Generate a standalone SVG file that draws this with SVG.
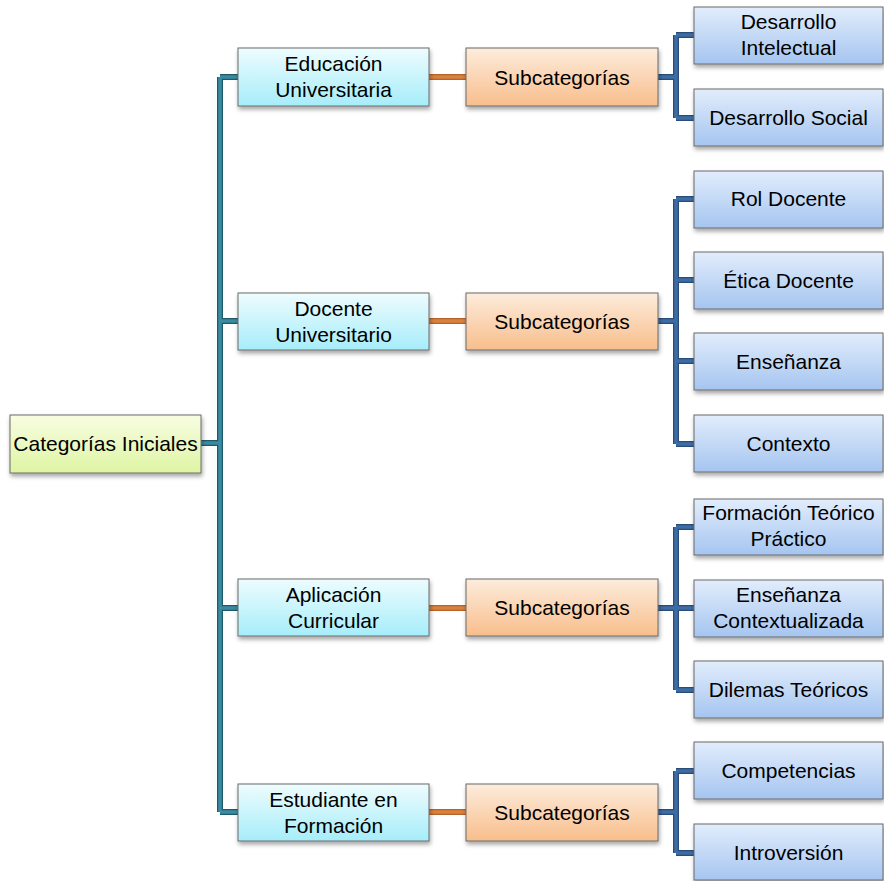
<svg xmlns="http://www.w3.org/2000/svg" width="884" height="881" viewBox="0 0 884 881">
<defs>
<linearGradient id="gRoot" x1="0" y1="0" x2="0" y2="1"><stop offset="0" stop-color="#f8fde2"/><stop offset="1" stop-color="#def5a3"/></linearGradient>
<linearGradient id="gCyan" x1="0" y1="0" x2="0" y2="1"><stop offset="0" stop-color="#eefcfe"/><stop offset="1" stop-color="#a6edfa"/></linearGradient>
<linearGradient id="gOrange" x1="0" y1="0" x2="0" y2="1"><stop offset="0" stop-color="#fdecdc"/><stop offset="1" stop-color="#f8be8c"/></linearGradient>
<linearGradient id="gBlue" x1="0" y1="0" x2="0" y2="1"><stop offset="0" stop-color="#e2edfc"/><stop offset="1" stop-color="#a5c5f0"/></linearGradient>
<filter id="shadow" x="-10%" y="-20%" width="125%" height="160%"><feDropShadow dx="1" dy="3" stdDeviation="2" flood-color="#000" flood-opacity="0.35"/></filter>
</defs>
<style>
.box{stroke:#6a6a6a;stroke-width:1;filter:url(#shadow)}
.root{fill:url(#gRoot)}
.cyan{fill:url(#gCyan)}
.orange{fill:url(#gOrange)}
.blue{fill:url(#gBlue)}
text{font-family:"Liberation Sans",Arial,sans-serif;font-size:21px;fill:#000;text-anchor:middle}
.c{fill:none;stroke-linejoin:miter;stroke-linecap:butt}
.tealO{stroke:#1f5a6b;stroke-width:6}
.tealI{stroke:#3b8ba2;stroke-width:3.5}
.orO{stroke:#b5632a;stroke-width:6}
.orI{stroke:#d9813e;stroke-width:3.5}
.blO{stroke:#2a4c78;stroke-width:6}
.blI{stroke:#3e6ca4;stroke-width:3.5}
</style>
<g id="connectors">
<path class="c tealO" d="M201 443H220M220 77V812M220 77H238M220 321H238M220 608H238M220 812H238"/>
<path class="c tealI" d="M201 443H220M220 77V812M220 77H238M220 321H238M220 608H238M220 812H238"/>
<path class="c orO" d="M429 77H466M429 321H466M429 608H466M429 812H466"/>
<path class="c orI" d="M429 77H466M429 321H466M429 608H466M429 812H466"/>
<path class="c blO" d="M658 77H676M676 35V118M676 35H694M676 118H694M658 321H676M676 199V444M676 199H694M676 280H694M676 361H694M676 444H694M658 608H676M676 527V690M676 527H694M676 608H694M676 690H694M658 812H676M676 771V853M676 771H694M676 853H694"/>
<path class="c blI" d="M658 77H676M676 35V118M676 35H694M676 118H694M658 321H676M676 199V444M676 199H694M676 280H694M676 361H694M676 444H694M658 608H676M676 527V690M676 527H694M676 608H694M676 690H694M658 812H676M676 771V853M676 771H694M676 853H694"/>
</g>
<g id="root"><rect class="box root" x="10" y="415" width="191" height="58"/><text x="105.5" y="451">Categorías Iniciales</text></g>
<g id="cat1"><rect class="box cyan" x="238" y="48" width="191" height="58"/><text x="333.5" y="71">Educación</text><text x="333.5" y="97">Universitaria</text></g>
<g id="cat2"><rect class="box cyan" x="238" y="293" width="191" height="57"/><text x="333.5" y="315.5">Docente</text><text x="333.5" y="341.5">Universitario</text></g>
<g id="cat3"><rect class="box cyan" x="238" y="579" width="191" height="57"/><text x="333.5" y="601.5">Aplicación</text><text x="333.5" y="627.5">Curricular</text></g>
<g id="cat4"><rect class="box cyan" x="238" y="784" width="191" height="57"/><text x="333.5" y="806.5">Estudiante en</text><text x="333.5" y="832.5">Formación</text></g>
<g id="sub1"><rect class="box orange" x="466" y="48" width="192" height="58"/><text x="562" y="84.5">Subcategorías</text></g>
<g id="sub2"><rect class="box orange" x="466" y="293" width="192" height="57"/><text x="562" y="329">Subcategorías</text></g>
<g id="sub3"><rect class="box orange" x="466" y="579" width="192" height="57"/><text x="562" y="615">Subcategorías</text></g>
<g id="sub4"><rect class="box orange" x="466" y="784" width="192" height="57"/><text x="562" y="820">Subcategorías</text></g>
<g id="n1"><rect class="box blue" x="694" y="7" width="189" height="57"/><text x="788.5" y="29">Desarrollo</text><text x="788.5" y="55">Intelectual</text></g>
<g id="n2"><rect class="box blue" x="694" y="89" width="189" height="57"/><text x="788.5" y="125">Desarrollo Social</text></g>
<g id="n3"><rect class="box blue" x="694" y="171" width="189" height="57"/><text x="788.5" y="206">Rol Docente</text></g>
<g id="n4"><rect class="box blue" x="694" y="252" width="189" height="57"/><text x="788.5" y="287.5">Ética Docente</text></g>
<g id="n5"><rect class="box blue" x="694" y="333" width="189" height="57"/><text x="788.5" y="368.5">Enseñanza</text></g>
<g id="n6"><rect class="box blue" x="694" y="415" width="189" height="57"/><text x="788.5" y="451">Contexto</text></g>
<g id="n7"><rect class="box blue" x="694" y="499" width="189" height="56"/><text x="788.5" y="520">Formación Teórico</text><text x="788.5" y="546">Práctico</text></g>
<g id="n8"><rect class="box blue" x="694" y="580" width="189" height="57"/><text x="788.5" y="602">Enseñanza</text><text x="788.5" y="628">Contextualizada</text></g>
<g id="n9"><rect class="box blue" x="694" y="661" width="189" height="57"/><text x="788.5" y="697">Dilemas Teóricos</text></g>
<g id="n10"><rect class="box blue" x="694" y="742" width="189" height="57"/><text x="788.5" y="778">Competencias</text></g>
<g id="n11"><rect class="box blue" x="694" y="824" width="189" height="56"/><text x="788.5" y="860">Introversión</text></g>
</svg>
